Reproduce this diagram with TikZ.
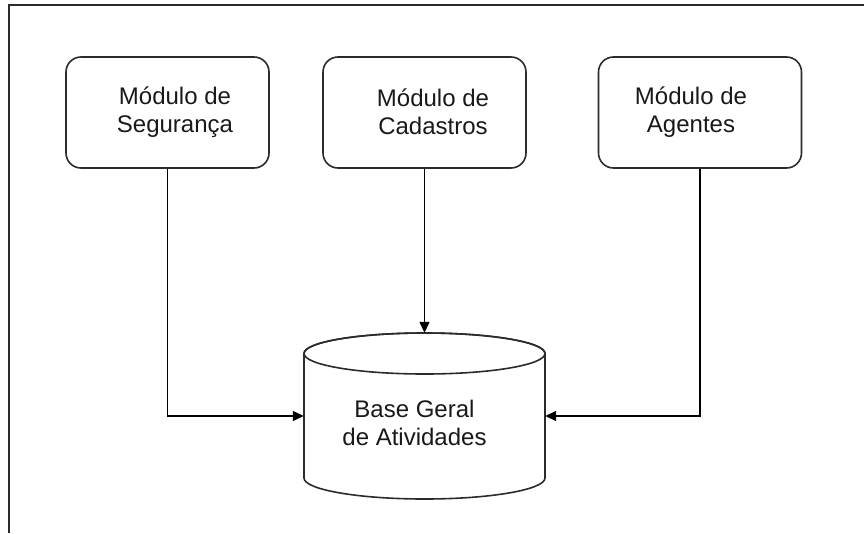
\documentclass[tikz,border=0pt]{standalone}
\usepackage{fontspec}
\setmainfont{Liberation Sans}
\usetikzlibrary{arrows.meta}
\definecolor{ink}{HTML}{2B2B2B}
\begin{document}
\begin{tikzpicture}[x=1pt,y=-1pt,
  modbox/.style={draw=ink, line width=1.6pt, rounded corners=15pt,
    minimum width=203pt, minimum height=111pt, inner sep=0pt},
  lbl/.style={align=center, inner sep=0pt,
    font=\fontsize{24}{28}\selectfont, text=black!90},
  link/.style={draw=black, line width=1.3pt,
    -{Triangle[length=11pt,width=10pt]}},
  frameline/.style={draw=ink, line width=1.8pt}]
  \useasboundingbox (0,0) rectangle (864,533);

  % open frame (top and left edges)
  \coordinate (fl) at (9,533);
  \coordinate (fc) at (9,5);
  \coordinate (fr) at (864,5);
  \draw[frameline] (fl) -- (fc) -- (fr);

  % module boxes
  \node[modbox] (seg) at (167.5,112.5) {};
  \node[modbox] (cad) at (424.5,112.5) {};
  \node[modbox] (age) at (700,112.5) {};
  \node[lbl] (segtxt) at (175,112) {Módulo de\\Segurança};
  \node[lbl] (cadtxt) at (433,112) {Módulo de\\Cadastros};
  \node[lbl] (agetxt) at (691,112) {Módulo de\\Agentes};

  % database cylinder (arc radii are canvas lengths, so angles keep their usual sense)
  \node[minimum width=241pt, minimum height=166pt, inner sep=0pt] (base) at (424.5,416) {};
  \draw[draw=ink, line width=1.6pt, fill=white]
    (304,353.5) -- (304,478)
    arc[start angle=180, end angle=360, x radius=120.5pt, y radius=21pt]
    -- (545,353.5)
    arc[start angle=0, end angle=180, x radius=120.5pt, y radius=20.5pt];
  \draw[draw=ink, line width=1.6pt]
    (424.5,353.5) ellipse[x radius=120.5pt, y radius=20.5pt];
  \node[lbl] (basetxt) at (414.5,423) {Base Geral\\de Atividades};

  % connectors
  \draw[link] (seg.south) |- (base.west);
  \draw[link] (cad.south) -- (base.north);
  \draw[link] (age.south) |- (base.east);
\end{tikzpicture}
\end{document}
